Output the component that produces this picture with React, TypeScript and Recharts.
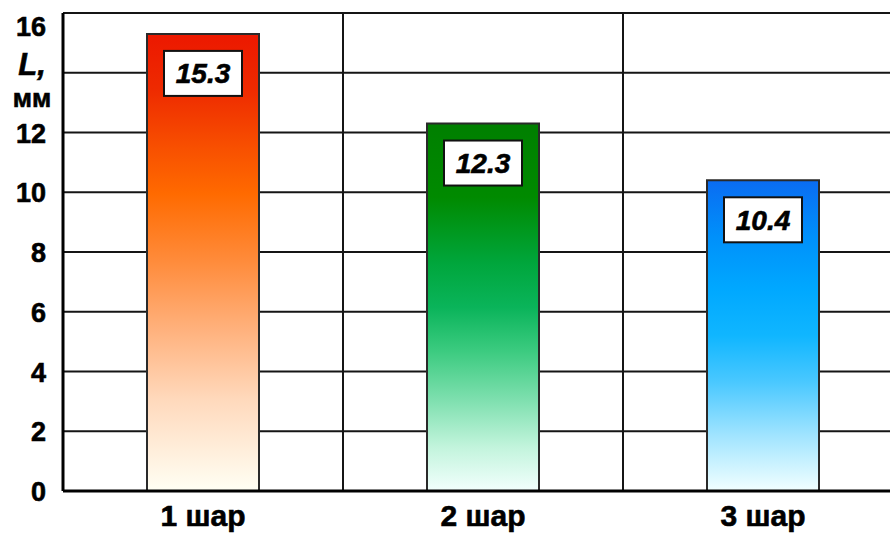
import { BarChart, Bar, XAxis, YAxis, CartesianGrid, Cell, LabelList } from 'recharts';

const categories = ['1 шар', '2 шар', '3 шар'];
const values = [15.3, 12.3, 10.4];
const yTicks = [0, 2, 4, 6, 8, 10, 12, 14, 16];
const boundaries = [0, 1, 2, 3];

const data = categories.map((name, i) => ({ name, L: values[i], pos: i + 0.5 }));

// gradient stops per bar (top -> bottom)
const gradients = [
  [['0%', '#ec1800'], ['12%', '#ee2a00'], ['25%', '#f85000'], ['35%', '#ff6a00'], ['50%', '#ff8c3c'], ['65%', '#ffb27e'], ['80%', '#ffd9bc'], ['100%', '#fffff4']],
  [['0%', '#007f00'], ['20%', '#008a00'], ['38%', '#00a63c'], ['50%', '#0ab45a'], ['62%', '#3ccb80'], ['75%', '#7ddfae'], ['88%', '#c2f4dc'], ['100%', '#f2fffd']],
  [['0%', '#0a6cf2'], ['18%', '#0090fa'], ['35%', '#00a8ff'], ['50%', '#10b6ff'], ['65%', '#4ac8ff'], ['82%', '#a0e4ff'], ['100%', '#f2ffff']],
];

const font = 'Arial, "Liberation Sans", sans-serif';
// the original text is a bit heavier than plain bold
const heavy = { stroke: '#000', strokeWidth: 0.6 };

const YTick = ({ y, payload }: any) => {
  if (payload.value === 14) {
    return (
      <g fontFamily={font} fontWeight="bold" fill="#000" {...heavy}>
        <text x={32} y={y - 8} textAnchor="middle" fontSize={31} fontStyle="italic" dominantBaseline="central">L,</text>
        <text x={32} y={y + 25} textAnchor="middle" fontSize={26} dominantBaseline="central">мм</text>
      </g>
    );
  }
  return (
    <text x={46} y={Math.max(y, 26) + 1} textAnchor="end" dominantBaseline="central" fontFamily={font} fontWeight="bold" fontSize={27} fill="#000" {...heavy}>
      {payload.value}
    </text>
  );
};

const XTick = ({ x, y, payload }: any) => (
  <text x={x} y={y + 27} textAnchor="middle" fontFamily={font} fontWeight="bold" fontSize={30} fill="#000" {...heavy}>
    {payload.value}
  </text>
);

const ValueLabel = ({ x, y, width, value }: any) => {
  const cx = x + width / 2;
  return (
    <g>
      <rect x={cx - 39} y={y + 17} width={78} height={45} fill="#fff" stroke="#111" strokeWidth={2} />
      <text x={cx} y={y + 40} textAnchor="middle" dominantBaseline="central" fontFamily={font} fontWeight="bold" fontStyle="italic" fontSize={28} fill="#000" {...heavy}>
        {value}
      </text>
    </g>
  );
};

export default function App() {
  return (
    <div style={{ position: 'absolute', left: 0, top: 0, width: 890, height: 536, overflow: 'hidden', background: '#fff' }}>
      <BarChart width={903} height={536} data={data} margin={{ top: 13, right: 0, bottom: 0, left: 0 }} barCategoryGap="30%">
        <defs>
          {gradients.map((g, i) => (
            <linearGradient key={i} id={`grad${i}`} x1="0" y1="0" x2="0" y2="1">
              {g.map(([o, c]) => <stop key={o} offset={o} stopColor={c} />)}
            </linearGradient>
          ))}
        </defs>
        <CartesianGrid xAxisId="grid" stroke="#151515" strokeWidth={2} horizontalValues={yTicks} verticalValues={boundaries} />
        <XAxis dataKey="name" axisLine={{ stroke: '#000', strokeWidth: 3 }} tickLine={false} height={45} tick={<XTick />} interval={0} />
        <XAxis xAxisId="grid" type="number" dataKey="pos" domain={[0, 3]} ticks={boundaries} hide />
        <YAxis domain={[0, 16]} ticks={yTicks} width={63} axisLine={{ stroke: '#000', strokeWidth: 3 }} tickLine={false} tick={<YTick />} interval={0} />
        <Bar dataKey="L" isAnimationActive={false} stroke="#2a2a2a" strokeWidth={2}>
          {data.map((d, i) => <Cell key={d.name} fill={`url(#grad${i})`} />)}
          <LabelList dataKey="L" content={<ValueLabel />} />
        </Bar>
      </BarChart>
    </div>
  );
}
